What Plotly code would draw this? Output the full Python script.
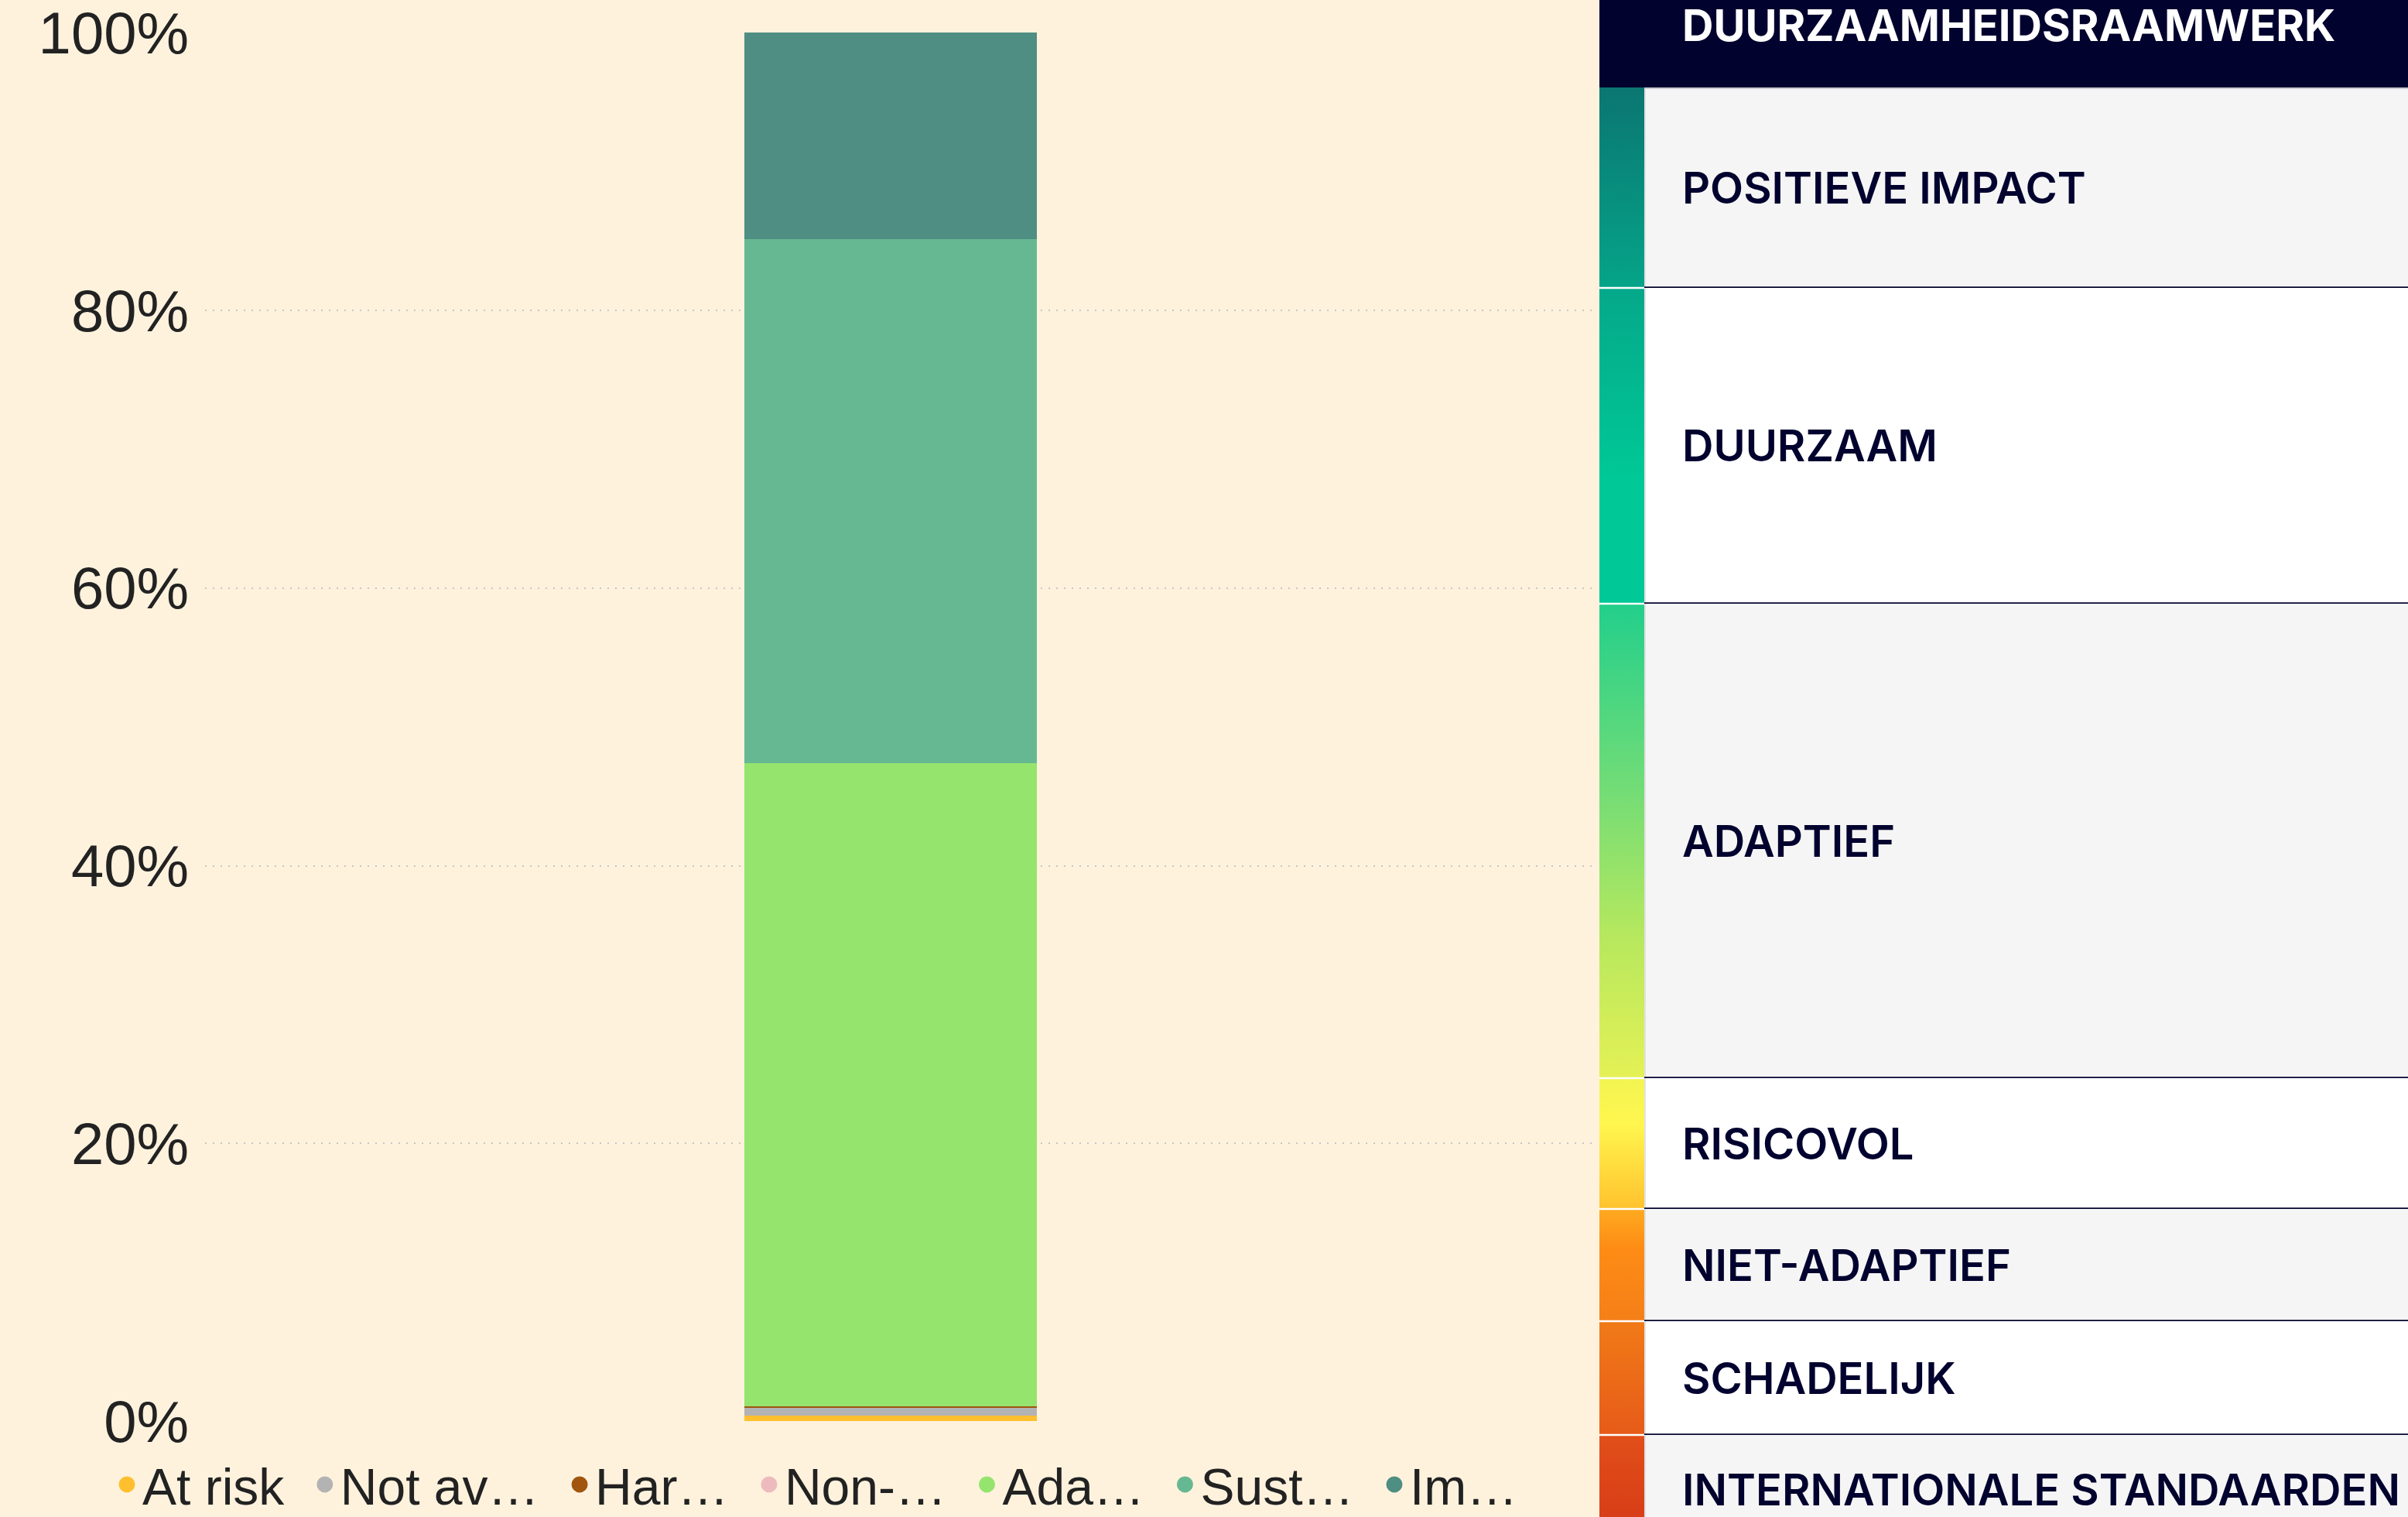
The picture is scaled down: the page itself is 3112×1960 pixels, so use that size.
import plotly.graph_objects as go

# ---------------- data ----------------
series_names = ["At risk", "Not available", "Harmful", "Non-adaptive", "Adaptive", "Sustainable", "Impact"]
legend_labels = ["At risk", "Not av…", "Har…", "Non-…", "Ada…", "Sust…", "Im…"]
series_values = [0.0037, 0.0061, 0.0007, 0.0000, 0.4634, 0.3774, 0.1487]
series_colors = ["#FFBF2E", "#B3B3B3", "#A0560F", "#EDBBBE", "#95E46D", "#66B892", "#4F8E82"]
category = ["Portfolio"]
y_tickvals = [0, 0.2, 0.4, 0.6, 0.8, 1.0]

framework_title = "DUURZAAMHEIDSRAAMWERK"
framework_labels = ["POSITIEVE IMPACT", "DUURZAAM", "ADAPTIEF", "RISICOVOL",
                    "NIET-ADAPTIEF", "SCHADELIJK", "INTERNATIONALE STANDAARDEN"]
# row boundaries of the side panel (pixels from top)
framework_edges = [113, 372, 780, 1393, 1562, 1707, 1854, 1996]
framework_row_bg = ["#F5F5F5", "#FFFFFF", "#F5F5F5", "#FFFFFF", "#F5F5F5", "#FFFFFF", "#F5F5F5"]
framework_gradients = [
    [[0, "#0B7672"], [1, "#05A488"]],
    [[0, "#05A88A"], [0.6, "#00C896"], [1, "#00C896"]],
    [[0, "#22CF8B"], [0.35, "#6ADB79"], [0.7, "#B6E85E"], [1, "#E4F155"]],
    [[0, "#F2F452"], [0.35, "#FFF64F"], [1, "#FFC22E"]],
    [[0, "#FFAA20"], [0.35, "#FD8C15"], [1, "#F57F18"]],
    [[0, "#F17A17"], [1, "#E65B19"]],
    [[0, "#E14F19"], [1, "#D53817"]],
]

W, H = 3112, 1960
CREAM = "#FEF2DD"
NAVY = "#02022F"
TEXT = "#222222"
LEGEND_PAD = "\u2005\u2006"

fig = go.Figure()

# stacked bar
for name, val, col in zip(series_names, series_values, series_colors):
    fig.add_trace(go.Bar(x=category, y=[val], name=name, marker=dict(color=col, line=dict(width=0)),
                         width=0.211, showlegend=False, legendgroup=name,
                         xaxis="x", yaxis="y"))
# legend entries (circle symbols)
for k, (name, lab, col) in enumerate(zip(series_names, legend_labels, series_colors)):
    shown = lab + (LEGEND_PAD if k < len(legend_labels) - 1 else "")
    fig.add_trace(go.Scatter(x=[None], y=[None], mode="markers", name=shown, legendgroup=name,
                             marker=dict(color=col, size=16, symbol="circle",
                                         line=dict(color=col, width=5)),
                             xaxis="x", yaxis="y"))

# side panel
PX0, STRIP_X1, PX1 = 2067, 2125, W
shapes = []
annotations = []
shapes.append(dict(type="rect", xref="x2", yref="y2", x0=PX0, x1=PX1, y0=-47, y1=framework_edges[0],
                   fillcolor=NAVY, line=dict(width=0), layer="above"))
annotations.append(dict(xref="x2", yref="y2", x=2172, y=(-47 + framework_edges[0]) / 2,
                        text=framework_title, showarrow=False, xanchor="left", yanchor="middle",
                        font=dict(family="Inter", size=56, color="#FFFFFF", weight=700)))
for i, lab in enumerate(framework_labels):
    top, bot = framework_edges[i], framework_edges[i + 1]
    fig.add_trace(go.Scatter(
        x=[PX0, STRIP_X1, STRIP_X1, PX0, PX0], y=[top, top, bot, bot, top],
        mode="lines", fill="toself", line=dict(width=0), showlegend=False, hoverinfo="skip",
        fillgradient=dict(type="vertical", start=top, stop=bot, colorscale=framework_gradients[i]),
        xaxis="x2", yaxis="y2"))
    shapes.append(dict(type="rect", xref="x2", yref="y2", x0=STRIP_X1, x1=PX1, y0=top, y1=bot,
                       fillcolor=framework_row_bg[i], line=dict(width=0), layer="above"))
    shapes.append(dict(type="line", xref="x2", yref="y2", x0=STRIP_X1 + 1, x1=STRIP_X1 + 1, y0=top, y1=bot,
                       line=dict(color="#DADADA", width=1.5), layer="above"))
    if i < len(framework_labels) - 1:
        shapes.append(dict(type="line", xref="x2", yref="y2", x0=STRIP_X1, x1=PX1, y0=bot, y1=bot,
                           line=dict(color="#05052F", width=3.5), layer="above"))
        shapes.append(dict(type="line", xref="x2", yref="y2", x0=PX0, x1=STRIP_X1, y0=bot, y1=bot,
                           line=dict(color="#FFFFFF", width=2.5), layer="above"))
    annotations.append(dict(xref="x2", yref="y2", x=2172, y=(top + bot) / 2, text=lab,
                            showarrow=False, xanchor="left", yanchor="middle",
                            font=dict(family="Inter", size=56, color=NAVY, weight=600)))
shapes.append(dict(type="line", xref="x2", yref="y2", x0=STRIP_X1, x1=PX1,
                   y0=framework_edges[0] + 1, y1=framework_edges[0] + 1,
                   line=dict(color="#C8C8D0", width=2), layer="above"))

fig.update_layout(
    width=W, height=H,
    margin=dict(l=0, r=0, t=0, b=0, autoexpand=False),
    paper_bgcolor=CREAM, plot_bgcolor="rgba(0,0,0,0)",
    barmode="stack",
    showlegend=True,
    legend=dict(orientation="h", x=144 / W, y=1 - 1918 / H, xanchor="left", yanchor="middle",
                font=dict(family="Liberation Sans, Arial", size=66, color=TEXT),
                bgcolor="rgba(0,0,0,0)", traceorder="normal", itemsizing="trace"),
    xaxis=dict(domain=[265 / W, 2057 / W], range=[-0.4944, 0.5056], showgrid=False,
               showticklabels=False, zeroline=False, showline=False, fixedrange=True),
    yaxis=dict(domain=[1 - 1836 / H, 1 - 42 / H], range=[0, 1.0002], tickvals=y_tickvals,
               tickformat=".0%", showgrid=True, gridcolor="#C6C6C6", gridwidth=2,
               griddash="2px,8px", zeroline=False, showline=False, ticks="",
               ticklabelstandoff=20, ticklabeloverflow="allow",
               tickfont=dict(family="Liberation Sans, Arial", size=76, color=TEXT)),
    xaxis2=dict(domain=[0, 1], range=[0, W], visible=False, fixedrange=True),
    yaxis2=dict(domain=[0, 1], range=[H, 0], visible=False, fixedrange=True),
    shapes=shapes,
    annotations=annotations,
)

fig.write_html(
    "out.html",
    config={"displayModeBar": False},
    post_script="document.body.style.margin='0';document.body.style.overflow='hidden';"
                "document.documentElement.style.overflow='hidden';",
)
